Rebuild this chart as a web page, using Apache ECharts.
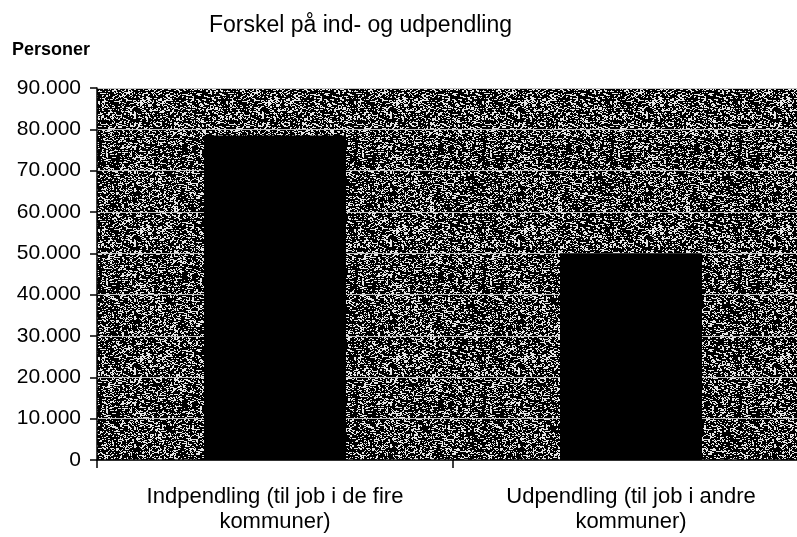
<!DOCTYPE html>
<html>
<head>
<meta charset="utf-8">
<script src="https://cdn.jsdelivr.net/npm/echarts@6/dist/echarts.min.js"></script>
<style>
  html, body { margin: 0; padding: 0; background: #fff; overflow: hidden; }
  #wrap { width: 797px; height: 537px; overflow: hidden; }
  /* plot runs past the right edge in the original, so the chart is wider than the window */
  #chart { width: 809px; height: 537px; }
</style>
</head>
<body>
<div id="wrap"><div id="chart"></div></div>
<script>
// data
var categories = ['Indpendling (til job i de fire\nkommuner)', 'Udpendling (til job i andre\nkommuner)'];
var persons = [78500, 50000];
var yTicks = [0, 10000, 20000, 30000, 40000, 50000, 60000, 70000, 80000, 90000];

// speckled grey texture for the plot background (scanned look)
function makeTexture() {
    var size = 128;
    var c = document.createElement('canvas');
    c.width = size; c.height = size;
    var ctx = c.getContext('2d');
    ctx.fillStyle = '#000';
    ctx.fillRect(0, 0, size, size);
    var img = ctx.getImageData(0, 0, size, size);
    for (var y = 0; y < size; y++) {
        for (var x = 0; x < size; x++) {
            // short horizontal streaks: cells of 2 px share one hash
            var cx = x >> 1;
            var h = Math.imul(cx * 374761393 + y * 668265263, 1274126177);
            h = (h ^ (h >>> 13)) >>> 0;
            var v = (h % 1000) / 1000;
            var h2 = Math.imul(x * 2246822519 + y * 3266489917, 668265263);
            h2 = (h2 ^ (h2 >>> 15)) >>> 0;
            var v2 = (h2 % 1000) / 1000;
            if (v < 0.2 || v2 < 0.16) {
                var i = (y * size + x) * 4;
                img.data[i] = img.data[i + 1] = img.data[i + 2] = 230;
            }
        }
    }
    ctx.putImageData(img, 0, 0);
    return c;
}

function fmt(v) {
    return String(v).replace(/\B(?=(\d{3})+(?!\d))/g, '.');
}

var chart = echarts.init(document.getElementById('chart'), null, {renderer: 'canvas'});
var font = '"Liberation Sans", Arial, sans-serif';

chart.setOption({
    animation: false,
    backgroundColor: '#fff',
    title: [
        {
            text: 'Forskel på ind- og udpendling',
            left: 204, top: 9,
            textStyle: {fontFamily: font, fontSize: 23, fontWeight: 'normal', color: '#000'}
        },
        {
            text: 'Personer',
            left: 7, top: 36,
            textStyle: {fontFamily: font, fontSize: 18, fontWeight: 'bold', color: '#000'}
        }
    ],
    grid: {
        left: 97, top: 88, bottom: 77, right: 0,
        show: true,
        borderWidth: 0,
        backgroundColor: {image: makeTexture(), repeat: 'repeat'}
    },
    xAxis: {
        type: 'category',
        data: categories,
        axisLine: {lineStyle: {color: '#000', width: 1.5}},
        axisTick: {show: true, length: 8, alignWithLabel: false, lineStyle: {color: '#000', width: 1.5}},
        axisLabel: {
            margin: 24, interval: 0,
            fontFamily: font, fontSize: 22, color: '#000', lineHeight: 25
        }
    },
    yAxis: {
        type: 'value',
        min: yTicks[0], max: yTicks[yTicks.length - 1], interval: 10000,
        axisLine: {show: true, lineStyle: {color: '#000', width: 1.5}},
        axisTick: {show: true, length: 7, lineStyle: {color: '#000', width: 1.5}},
        axisLabel: {
            margin: 16,
            fontFamily: font, fontSize: 21, color: '#000',
            formatter: fmt
        },
        splitLine: {show: true, lineStyle: {color: '#c4c4c4', width: 1}}
    },
    series: [{
        type: 'bar',
        data: persons,
        barWidth: 142,
        itemStyle: {color: '#000'}
    }]
});
</script>
</body>
</html>
